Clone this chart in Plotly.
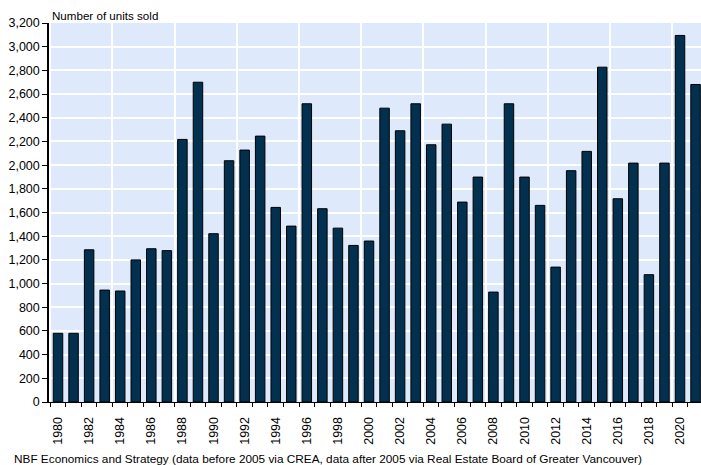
import plotly.graph_objects as go

years = list(range(1980, 2022))
units_sold = [580, 580, 1285, 945, 937, 1200, 1294, 1278, 2217, 2700,
              1421, 2037, 2127, 2245, 1643, 1485, 2518, 1632, 1468, 1322,
              1359, 2481, 2290, 2518, 2172, 2346, 1688, 1899, 928, 2518,
              1899, 1660, 1139, 1953, 2116, 2827, 1716, 2017, 1075, 2017,
              3095, 2681]
label_years = list(range(1980, 2021, 2))
y_title = "Number of units sold"
source_text = ("NBF Economics and Strategy (data before 2005 via CREA, "
               "data after 2005 via Real Estate Board of Greater Vancouver)")

FONT = "Arial, Liberation Sans, sans-serif"
xr = [1979.42, 2021.35]

fig = go.Figure()
fig.add_trace(go.Bar(
    x=years, y=units_sold, width=0.61,
    marker=dict(color="#04304f", line=dict(color="#000000", width=1)),
    hoverinfo="x+y", showlegend=False,
))
# empty trace to host the grid axis
fig.add_trace(go.Scatter(x=[], y=[], xaxis="x2", yaxis="y", showlegend=False))

fig.update_layout(
    width=701, height=465,
    margin=dict(l=49, r=0, t=23, b=63, autoexpand=False),
    paper_bgcolor="white",
    plot_bgcolor="#dee9fb",
    font=dict(family=FONT, size=12, color="#000000"),
    bargap=0.39,
    xaxis=dict(
        range=xr, tickmode="array", tickvals=label_years,
        ticktext=[str(y) for y in label_years],
        tickangle=-90, ticks="outside", ticklen=9, tickcolor="rgba(0,0,0,0)",
        showgrid=False, zeroline=False, automargin=False,
        showline=True, linecolor="#000000", linewidth=1,
        minor=dict(tick0=1979.5, dtick=1, ticks="outside", ticklen=4,
                   tickcolor="#000000", showgrid=False),
        tickfont=dict(size=12.5),
    ),
    xaxis2=dict(
        range=xr, overlaying="x", anchor="y", side="bottom", automargin=False,
        tick0=1983.5, dtick=4, showgrid=True, gridcolor="white", gridwidth=1.5,
        showticklabels=False, ticks="", showline=False, zeroline=False,
    ),
    yaxis=dict(
        range=[0, 3200], dtick=200, tickformat=",", automargin=False,
        showgrid=True, gridcolor="white", gridwidth=1.5,
        ticks="outside", ticklen=5, tickcolor="#000000",
        showline=True, linecolor="#000000", linewidth=1.5,
        zeroline=False, tickfont=dict(size=12.5),
    ),
    annotations=[
        dict(text=y_title, xref="paper", yref="paper", x=0, y=1,
             xanchor="left", yanchor="middle", yshift=8, xshift=1,
             showarrow=False, font=dict(size=11.6)),
        dict(text=source_text, xref="paper", yref="paper", x=0, y=0,
             xanchor="left", yanchor="middle", xshift=-37, yshift=-57,
             showarrow=False, font=dict(size=11.8)),
    ],
)

fig.write_html(
    "out.html",
    config={"displayModeBar": False},
    post_script="document.body.style.margin='0';document.body.style.overflow='hidden';",
)
